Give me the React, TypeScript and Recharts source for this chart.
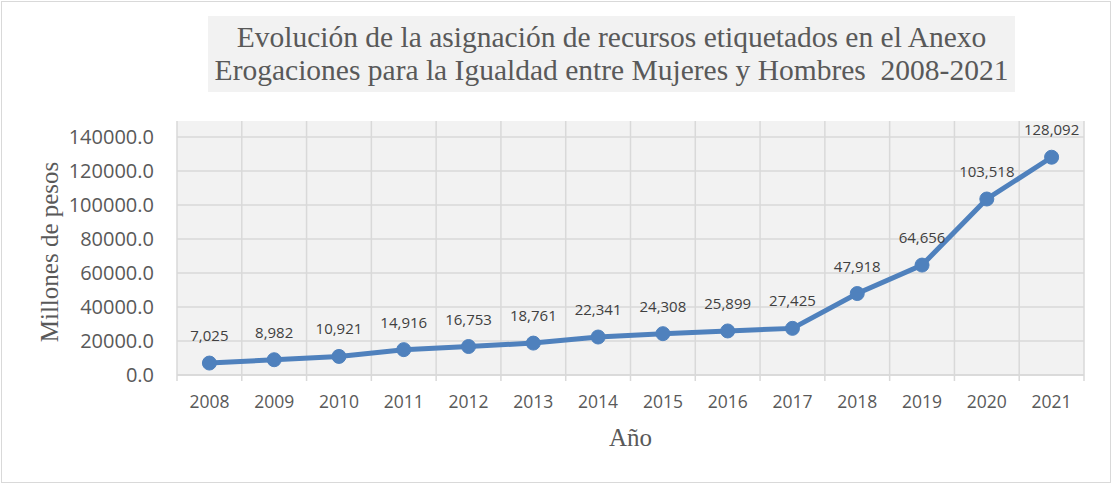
import React from "react";
import {
  LineChart,
  Line,
  XAxis,
  YAxis,
  CartesianGrid,
  LabelList,
} from "recharts";

const YEARS = ["2008", "2009", "2010", "2011", "2012", "2013", "2014", "2015", "2016", "2017", "2018", "2019", "2020", "2021"];
const MONTOS = [7025, 8982, 10921, 14916, 16753, 18761, 22341, 24308, 25899, 27425, 47918, 64656, 103518, 128092];
const Y_TICKS = [0, 20000, 40000, 60000, 80000, 100000, 120000, 140000];

const TITLE_1 = "Evolución de la asignación de recursos etiquetados en el Anexo";
const TITLE_2 = "Erogaciones para la Igualdad entre Mujeres y Hombres  2008-2021";

// each year sits in the middle of its slot, gridlines on the slot edges
const data = YEARS.map((y, i) => ({ year: y, pos: i + 0.5, monto: MONTOS[i] }));
const xTicks = YEARS.map((_, i) => i).concat([YEARS.length]);

const W = 1114;
const H = 487;
const MARGIN = { top: 121, right: 30, bottom: 72, left: 117 };
const PLOT_W = W - MARGIN.left - 60 - MARGIN.right;
const SLOT = PLOT_W / YEARS.length;

const sans = "'Segoe UI', 'Open Sans', 'Noto Sans', sans-serif";
const serif = "'Times New Roman', 'Liberation Serif', serif";

const XTick = (props: any) => {
  const { x, y, payload } = props;
  const label = YEARS[payload.value];
  if (!label) return null;
  return (
    <text x={x + SLOT / 2} y={y} dy={25} textAnchor="middle" fill="#595959" fontSize={17.5} fontFamily={sans}>
      {label}
    </text>
  );
};

export default function App() {
  return (
    <div style={{ position: "absolute", left: 0, top: 0, width: W, height: H, background: "#fff" }}>
      <div
        style={{
          position: "absolute",
          left: 1,
          top: 1,
          width: 1110,
          height: 482,
          border: "1.5px solid #d9d9d9",
          boxSizing: "border-box",
        }}
      />
      <div
        style={{
          position: "absolute",
          left: 208,
          top: 16,
          width: 807,
          height: 76,
          background: "#f2f2f2",
          color: "#595959",
          fontFamily: serif,
          fontSize: 29.5,
          lineHeight: "33px",
          textAlign: "center",
          paddingTop: 4.5,
          boxSizing: "border-box",
          whiteSpace: "pre",
        }}
      >
        {TITLE_1}
        {"\n"}
        {TITLE_2}
      </div>
      <div style={{ position: "absolute", left: 0, top: 0 }}>
        <LineChart width={W} height={H} data={data} margin={MARGIN}>
          <CartesianGrid
            fill="#f2f2f2"
            stroke="#d9d9d9"
            strokeWidth={1.5}
            horizontalValues={Y_TICKS}
          />
          <XAxis
            type="number"
            dataKey="pos"
            domain={[0, YEARS.length]}
            ticks={xTicks}
            interval={0}
            tick={<XTick />}
            tickSize={6}
            tickMargin={2}
            stroke="#d9d9d9"
            strokeWidth={1.5}
            height={40}
            label={{
              value: "Año",
              position: "bottom",
              offset: 13,
              style: { fontFamily: serif, fontSize: 25, fill: "#595959" },
            }}
          />
          <YAxis
            type="number"
            domain={[0, 149400]}
            ticks={Y_TICKS}
            interval={0}
            width={60}
            axisLine={false}
            tickLine={false}
            tickSize={0}
            tickMargin={23}
            tickFormatter={(v: number) => v.toFixed(1)}
            tick={{ fill: "#595959", fontSize: 20, fontFamily: sans }}
            label={{
              content: (p: any) => {
                const vb = p.viewBox;
                const cx = vb.x - 68;
                const cy = vb.y + vb.height / 2 + 4;
                return (
                  <text
                    x={cx}
                    y={cy}
                    transform={`rotate(-90 ${cx} ${cy})`}
                    textAnchor="middle"
                    dominantBaseline="central"
                    fill="#595959"
                    fontSize={25}
                    fontFamily={serif}
                  >
                    Millones de pesos
                  </text>
                );
              },
            }}
          />
          <Line
            type="linear"
            dataKey="monto"
            stroke="#4f81bd"
            strokeWidth={5}
            dot={{ r: 7, fill: "#4f81bd", stroke: "#4f81bd", strokeWidth: 1 }}
            isAnimationActive={false}
          >
            <LabelList
              dataKey="monto"
              position="top"
              offset={22}
              formatter={(v: any) => Number(v).toLocaleString("en-US")}
              style={{ fill: "#404040", fontSize: 15, fontFamily: sans }}
            />
          </Line>
        </LineChart>
      </div>
    </div>
  );
}
